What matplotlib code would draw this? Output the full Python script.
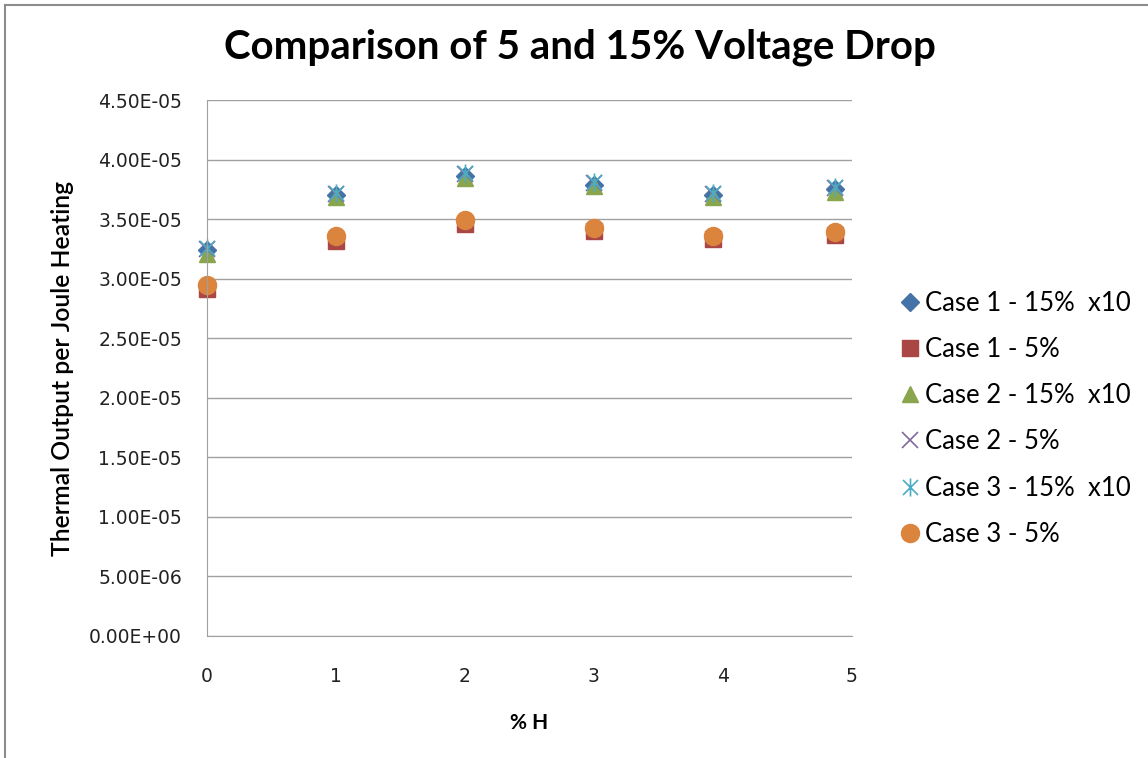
import matplotlib
matplotlib.use('Agg')
import matplotlib.pyplot as plt
from matplotlib.path import Path
from matplotlib.ticker import FuncFormatter, MultipleLocator

# data
h_pct = [0, 1, 2, 3, 3.92, 4.87]
case1_15 = [3.24e-5, 3.70e-5, 3.86e-5, 3.79e-5, 3.70e-5, 3.75e-5]
case1_5 = [2.91e-5, 3.32e-5, 3.46e-5, 3.40e-5, 3.33e-5, 3.37e-5]
case2_15 = [3.21e-5, 3.685e-5, 3.845e-5, 3.78e-5, 3.685e-5, 3.73e-5]
case2_5 = [3.25e-5, 3.71e-5, 3.88e-5, 3.80e-5, 3.71e-5, 3.76e-5]
case3_15 = [3.26e-5, 3.72e-5, 3.89e-5, 3.81e-5, 3.72e-5, 3.77e-5]
case3_5 = [2.945e-5, 3.36e-5, 3.49e-5, 3.425e-5, 3.36e-5, 3.39e-5]
labels = ['Case 1 - 15%  x10', 'Case 1 - 5%', 'Case 2 - 15%  x10',
          'Case 2 - 5%', 'Case 3 - 15%  x10', 'Case 3 - 5%']

# excel style "star": an x with a vertical bar through it
star = Path([(-1, -1), (1, 1), (-1, 1), (1, -1), (0, -1.2), (0, 1.2)],
            [Path.MOVETO, Path.LINETO, Path.MOVETO, Path.LINETO,
             Path.MOVETO, Path.LINETO])

fig = plt.figure(figsize=(11.48, 7.58), dpi=100)
ax = fig.add_axes([0.1803, 0.161, 0.5617, 0.707])

series = [
    (case1_15, dict(marker='D', color='#4572A7', ms=9)),
    (case1_5, dict(marker='s', color='#AA4643', ms=12)),
    (case2_15, dict(marker='^', color='#89A54E', ms=12)),
    (case2_5, dict(marker='x', color='#80699B', ms=12, mew=1.2)),
    (case3_15, dict(marker=star, color='#4BACC6', ms=13, mew=1.2)),
    (case3_5, dict(marker='o', color='#DB843D', ms=13)),
]
for (vals, st), lab in zip(series, labels):
    ax.plot(h_pct, vals, linestyle='none', label=lab, clip_on=False, **st)

ax.set_xlim(0, 5)
ax.set_ylim(0, 4.5e-5)
ax.xaxis.set_major_locator(MultipleLocator(1))
ax.yaxis.set_major_locator(MultipleLocator(0.5e-5))
ax.yaxis.set_major_formatter(FuncFormatter(lambda v, p: f'{v:.2E}'))
ax.grid(axis='y', color='#A0A0A0', lw=1)
ax.set_axisbelow(True)
for s in ['top', 'right']:
    ax.spines[s].set_visible(False)
for s in ['left', 'bottom']:
    ax.spines[s].set_color('#A0A0A0')
ax.tick_params(length=0, labelsize=13.5, labelcolor='#222222')
ax.tick_params(axis='x', pad=22)
ax.tick_params(axis='y', pad=18)

fig.text(580 / 1148, 1 - 47 / 758, 'Comparison of 5 and 15% Voltage Drop',
         family='Lato', fontweight='bold', fontsize=29, ha='center', va='center')
ax.set_xlabel('% H', family='Lato', fontweight='bold', fontsize=15, labelpad=20)
ax.set_ylabel('Thermal Output per Joule Heating', family='Lato',
              fontweight='semibold', fontsize=17.8, labelpad=11)

ax.legend(loc='center left', bbox_to_anchor=(1.055, 0.405), frameon=False,
          prop={'family': 'Lato', 'size': 18.5}, handletextpad=0.05,
          labelspacing=0.82, handlelength=1.0, borderaxespad=0)

# chart border (only left and top edges fall inside the picture)
fig.add_artist(plt.Line2D([0.0044, 0.0044], [0, 0.9934], color='#8C8C8C', lw=1.5))
fig.add_artist(plt.Line2D([0.0044, 1], [0.9934, 0.9934], color='#8C8C8C', lw=1.5))

fig.savefig('out.png', dpi=100)
